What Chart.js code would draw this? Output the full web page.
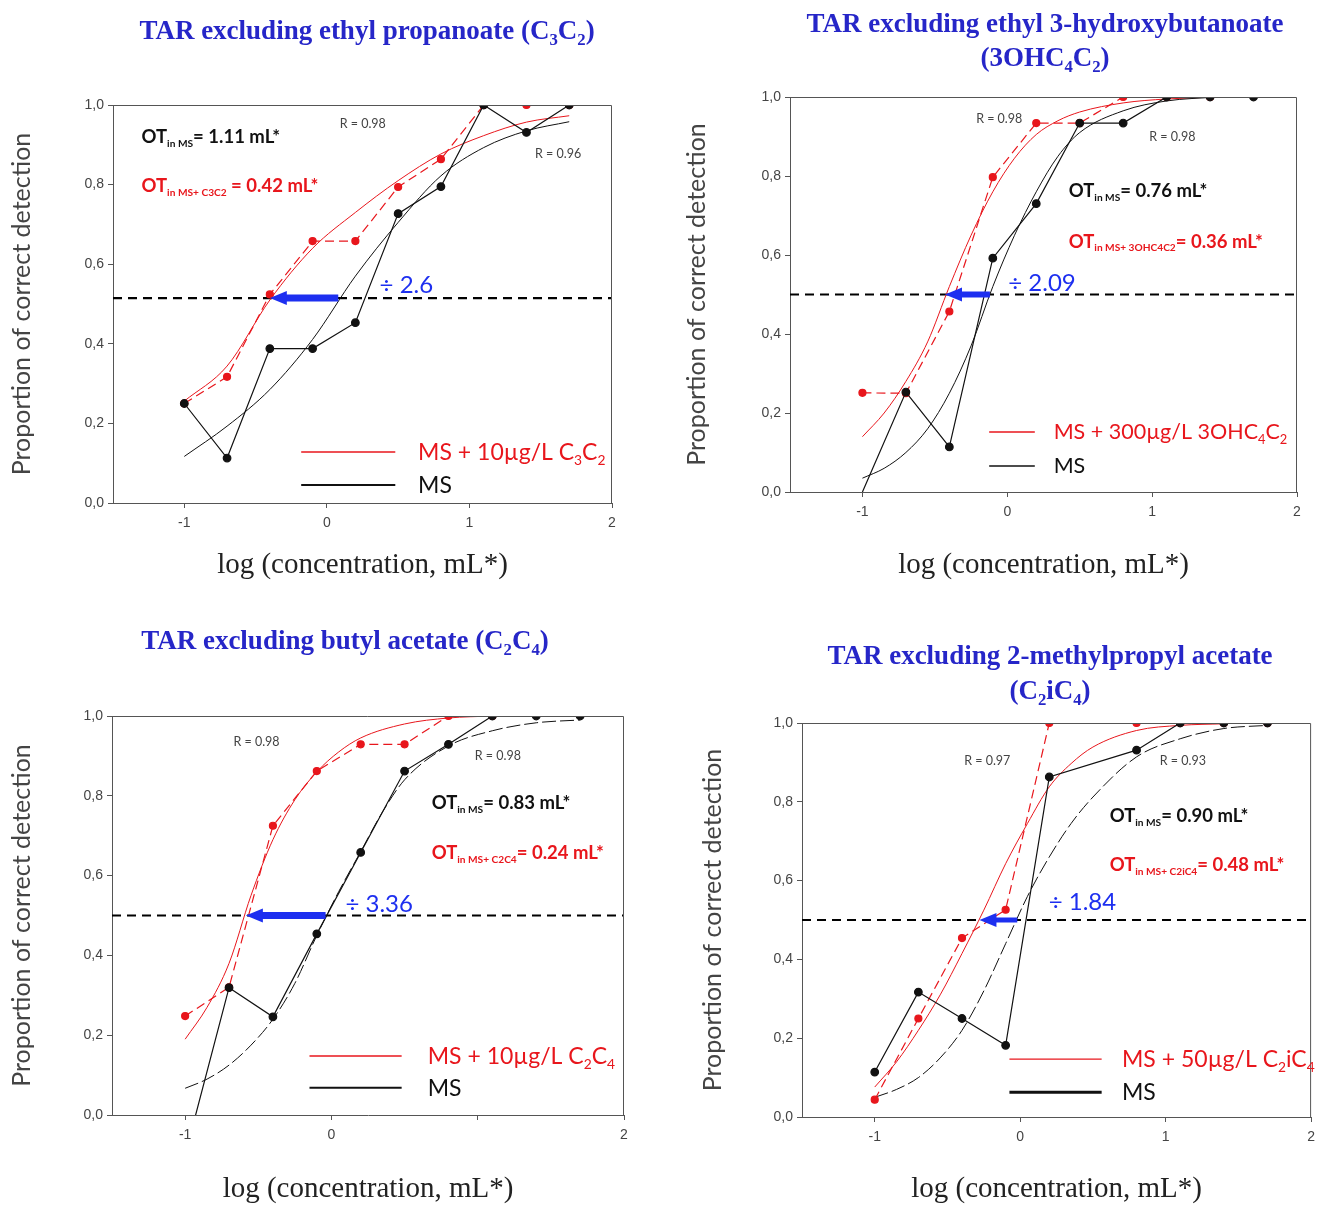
<!DOCTYPE html>
<html lang="en">
<head>
<meta charset="UTF-8">
<title>TAR excluding esters</title>
<script src="https://cdn.jsdelivr.net/npm/chart.js"></script>
<style>
  body { margin: 0; background: #fff; }
  #wrap { position: relative; width: 1322px; height: 1207px; overflow: hidden; }
  .panel { position: absolute; }
  canvas { display: block; }
</style>
</head>
<body>
<div id="wrap">
  <div class="panel" style="left:0;top:0"><canvas id="c1" width="661" height="600"></canvas></div>
  <div class="panel" style="left:661px;top:0"><canvas id="c2" width="661" height="600"></canvas></div>
  <div class="panel" style="left:0;top:600px"><canvas id="c3" width="661" height="607"></canvas></div>
  <div class="panel" style="left:661px;top:600px"><canvas id="c4" width="661" height="607"></canvas></div>
</div>
<script>
// shared axes
const xTicks = [-1, 0, 1, 2];
const xTickLabels = ['-1', '0', '1', '2'];
const xTickLabelsP3 = ['-1', '0', '', '2'];   // "1" is missing in the scan
const yTicks = [0, 0.2, 0.4, 0.6, 0.8, 1.0];
const doses = [-1, -0.7, -0.4, -0.1, 0.2, 0.5, 0.8, 1.1, 1.4, 1.7];

// panel 1 : ethyl propanoate
const p1Ms     = [0.25, 0.113, 0.388, 0.388, 0.453, 0.727, 0.795, 1.0, 0.931, 1.0];
const p1Spiked = [0.25, 0.317, 0.524, 0.658, 0.658, 0.794, 0.864, 1.0, 1.0, 1.0];
const p1FitX   = [-1, -0.7, -0.4, -0.1, 0.2, 0.5, 0.8, 1.1, 1.4, 1.7];
const p1MsFit  = [0.117, 0.193, 0.285, 0.411, 0.57, 0.705, 0.822, 0.893, 0.935, 0.958];
const p1SpFit  = [0.256, 0.344, 0.51, 0.64, 0.73, 0.81, 0.877, 0.923, 0.957, 0.973];
const p1Half = 0.515;
const p1Arrow = [0.08, -0.4];

// panel 2 : ethyl 3-hydroxybutanoate
const p2Ms     = [0.0, 0.253, 0.114, 0.592, 0.73, 0.934, 0.934, 1.0, 1.0, 1.0];
const p2Spiked = [0.251, 0.25, 0.457, 0.797, 0.934, 0.934, 1.0, 1.0, 1.0, null];
const p2FitX   = [-1, -0.85, -0.7, -0.55, -0.4, -0.25, -0.1, 0.05, 0.2, 0.35, 0.5, 0.8, 1.1, 1.45];
const p2MsFit  = [0.035, 0.06, 0.10, 0.16, 0.25, 0.37, 0.52, 0.65, 0.76, 0.85, 0.91, 0.965, 0.99, 1.0];
const p2SpFit  = [0.14, 0.2, 0.28, 0.38, 0.52, 0.65, 0.76, 0.845, 0.905, 0.94, 0.962, 0.985, 0.995, 1.0];
const p2Half = 0.5;
const p2Arrow = [-0.12, -0.43];

// panel 3 : butyl acetate
const p3Ms     = [-0.1, 0.319, 0.246, 0.454, 0.658, 0.862, 0.929, 1.0, 1.0, 1.0];
const p3Spiked = [0.248, 0.32, 0.725, 0.862, 0.929, 0.929, 1.0, 1.0, null, null];
const p3FitX   = [-1, -0.85, -0.7, -0.55, -0.4, -0.25, -0.1, 0.05, 0.2, 0.35, 0.5, 0.8, 1.1, 1.4, 1.7];
const p3MsFit  = [0.067, 0.09, 0.125, 0.175, 0.24, 0.33, 0.45, 0.56, 0.66, 0.76, 0.84, 0.925, 0.963, 0.983, 0.99];
const p3SpFitX = [-1, -0.85, -0.7, -0.55, -0.4, -0.25, -0.1, 0.05, 0.2, 0.5, 0.8, 1.1];
const p3SpFit  = [0.19, 0.27, 0.38, 0.55, 0.69, 0.79, 0.86, 0.91, 0.945, 0.98, 0.995, 1.0];
const p3Half = 0.5;
const p3Arrow = [-0.04, -0.585];

// panel 4 : 2-methylpropyl acetate
const p4Ms     = [0.114, 0.317, 0.25, 0.182, 0.863, null, 0.931, 1.0, 1.0, 1.0];
const p4Spiked = [0.044, 0.25, 0.454, 0.526, 1.0, null, 1.0, 1.0, 1.0, 1.0];
const p4FitX   = [-1, -0.85, -0.7, -0.55, -0.4, -0.25, -0.1, 0.05, 0.2, 0.35, 0.5, 0.8, 1.1, 1.4, 1.7];
const p4MsFit  = [0.05, 0.07, 0.10, 0.15, 0.22, 0.32, 0.44, 0.56, 0.66, 0.745, 0.812, 0.914, 0.96, 0.986, 0.994];
const p4SpFitX = [-1, -0.85, -0.7, -0.55, -0.4, -0.25, -0.1, 0.05, 0.2, 0.35, 0.5, 0.8, 1.1, 1.4];
const p4SpFit  = [0.076, 0.14, 0.22, 0.31, 0.415, 0.525, 0.643, 0.745, 0.838, 0.897, 0.939, 0.981, 0.994, 0.998];
const p4Half = 0.5;
const p4Arrow = [-0.02, -0.28];

const RED = '#e8161c';
const BLACK = '#111';
const BLUE = '#1d2ff0';
const AXIS = '#555';
const SANS = 'Lato, "Open Sans", sans-serif';
const SERIF = '"Liberation Serif", "Times New Roman", serif';

function pairs(xs, ys) {
    return xs.map((x, i) => ({ x: x, y: ys[i] === undefined ? null : ys[i] }));
}

// text with _{...} subscripts
function parseRich(str) {
    return str.split(/(_\{[^}]*\})/).filter(Boolean)
        .map(p => p.startsWith('_{') ? { t: p.slice(2, -1), sub: true } : { t: p, sub: false });
}
function drawRich(ctx, str, x, y, o) {
    const parts = parseRich(str);
    const fontFor = sub => `${o.weight || 'normal'} ${sub ? o.size * (o.subScale || 0.62) : o.size}px ${o.family}`;
    let w = 0;
    parts.forEach(p => { ctx.font = fontFor(p.sub); w += ctx.measureText(p.t).width; });
    let cx = o.align === 'center' ? x - w / 2 : x;
    const base = y + o.size * 0.35;
    ctx.fillStyle = o.color;
    ctx.textAlign = 'left';
    ctx.textBaseline = 'alphabetic';
    parts.forEach(p => {
        ctx.font = fontFor(p.sub);
        ctx.fillText(p.t, cx, p.sub ? base + o.size * 0.2 : base);
        cx += ctx.measureText(p.t).width;
    });
}

// frame, arrow, labels, legend, titles
const decor = {
    id: 'decor',
    afterDatasetsDraw(chart) {
        const lay = chart.options.plugins.decor;
        const { ctx, chartArea: a, scales: { x, y } } = chart;
        ctx.save();
        ctx.strokeStyle = AXIS;
        ctx.lineWidth = 1;
        ctx.beginPath();
        ctx.moveTo(a.left, a.top + 0.5);
        ctx.lineTo(a.right - 0.5, a.top + 0.5);
        ctx.lineTo(a.right - 0.5, a.bottom);
        ctx.stroke();

        // blue arrow
        const x0 = x.getPixelForValue(lay.arrow[0]);
        const x1 = x.getPixelForValue(lay.arrow[1]);
        const ya = y.getPixelForValue(lay.half);
        const head = 17;
        ctx.strokeStyle = BLUE;
        ctx.fillStyle = BLUE;
        ctx.lineWidth = lay.arrowW;
        ctx.beginPath();
        ctx.moveTo(x0, ya);
        ctx.lineTo(x1 + head - 2, ya);
        ctx.stroke();
        ctx.beginPath();
        ctx.moveTo(x1, ya);
        ctx.lineTo(x1 + head, ya - 7);
        ctx.lineTo(x1 + head, ya + 7);
        ctx.closePath();
        ctx.fill();
        drawRich(ctx, lay.ratio.text, x.getPixelForValue(lay.ratio.x), y.getPixelForValue(lay.ratio.y),
            { size: 24, family: SANS, color: BLUE });

        lay.r.forEach(r => drawRich(ctx, r.text, x.getPixelForValue(r.x), y.getPixelForValue(r.y),
            { size: 12.5, family: SANS, color: '#444' }));
        lay.ot.forEach(o => drawRich(ctx, o.text, x.getPixelForValue(o.x), y.getPixelForValue(o.y),
            { size: 18.5, weight: 'bold', family: SANS, color: o.color, subScale: 0.55 }));

        // legend
        const lx0 = x.getPixelForValue(lay.legend.line[0]);
        const lx1 = x.getPixelForValue(lay.legend.line[1]);
        const tx = x.getPixelForValue(lay.legend.textX);
        lay.legend.items.forEach(it => {
            const py = y.getPixelForValue(it.y);
            ctx.strokeStyle = it.color;
            ctx.lineWidth = it.w;
            ctx.beginPath();
            ctx.moveTo(lx0, py);
            ctx.lineTo(lx1, py);
            ctx.stroke();
            drawRich(ctx, it.text, tx, py, { size: lay.legend.size, family: SANS, color: it.color, subScale: 0.6 });
        });
        ctx.restore();
    },
    afterDraw(chart) {
        const lay = chart.options.plugins.decor;
        const ctx = chart.ctx;
        ctx.save();
        lay.titles.forEach(t => drawRich(ctx, t.text, t.x, t.y,
            { size: 27, weight: 'bold', family: SERIF, color: '#2626c8', align: 'center', subScale: 0.62 }));
        ctx.restore();
    }
};

function makePanel(id, p) {
    const canvas = document.getElementById(id);
    const W = canvas.width, H = canvas.height;
    const a = p.area;
    const xAxisH = Math.round(p.xTitleY - a.bottom + 17);
    const datasets = [
        { label: 'MS', data: pairs(doses, p.ms), borderColor: BLACK, backgroundColor: BLACK,
          borderWidth: 1.2, spanGaps: true, order: 0,
          pointRadius: c => (c.raw && c.raw.y > 0 ? 3.8 : 0) },
        { label: 'MS spiked', data: pairs(doses, p.spiked), borderColor: RED, backgroundColor: RED,
          borderWidth: 1.2, borderDash: [9, 5], spanGaps: true, order: 1, pointRadius: 3.5 },
        { label: 'MS fit', data: pairs(p.fitX, p.msFit), borderColor: BLACK, borderWidth: 1,
          borderDash: p.fitDash, pointRadius: 0, cubicInterpolationMode: 'monotone', order: 2 },
        { label: 'spiked fit', data: pairs(p.spFitX, p.spFit), borderColor: RED, borderWidth: 1,
          pointRadius: 0, cubicInterpolationMode: 'monotone', order: 3 },
        { label: 'half', data: [{ x: -1.5, y: p.half }, { x: 2, y: p.half }], borderColor: '#000',
          borderWidth: 2.2, borderDash: [9, 6], pointRadius: 0, order: 4 }
    ];
    return new Chart(canvas, {
        type: 'line',
        data: { datasets: datasets },
        options: {
            responsive: false,
            animation: false,
            layout: { padding: { left: 4, top: a.top, right: W - a.right, bottom: Math.max(0, H - a.bottom - xAxisH) } },
            plugins: {
                legend: { display: false },
                tooltip: { enabled: false },
                decor: {
                    half: p.half, arrow: p.arrow, arrowW: p.arrowW, ratio: p.ratio,
                    r: p.r, ot: p.ot, legend: p.legend, titles: p.titles
                }
            },
            scales: {
                x: {
                    type: 'linear', min: -1.5, max: 2,
                    afterBuildTicks: s => { s.ticks = xTicks.map(v => ({ value: v })); },
                    afterFit: s => { s.height = xAxisH; },
                    ticks: { callback: (v, i) => p.xLabels[i], color: '#444', padding: 7,
                             font: { family: '"Liberation Sans", Arial, sans-serif', size: 14 } },
                    grid: { drawOnChartArea: false, drawTicks: true, tickLength: 5, color: AXIS },
                    border: { color: AXIS, width: 1 },
                    title: { display: true, text: 'log (concentration, mL*)', color: '#222',
                             font: { family: SERIF, size: 29 }, padding: { top: 0, bottom: 0 } }
                },
                y: {
                    type: 'linear', min: 0, max: 1,
                    afterBuildTicks: s => { s.ticks = yTicks.map(v => ({ value: v })); },
                    afterFit: s => { s.width = a.left - 4; },
                    ticks: { callback: v => v.toFixed(1).replace('.', ','), color: '#444', padding: 4,
                             font: { family: '"Liberation Sans", Arial, sans-serif', size: 14 } },
                    grid: { drawOnChartArea: false, drawTicks: true, tickLength: 5, color: AXIS },
                    border: { color: AXIS, width: 1 },
                    title: { display: true, text: 'Proportion of correct detection', color: '#444',
                             font: { family: SANS, size: 25 }, padding: { top: p.yTitlePad, bottom: 0 } }
                }
            }
        },
        plugins: [decor]
    });
}

makePanel('c1', {
    ms: p1Ms, spiked: p1Spiked, fitX: p1FitX, msFit: p1MsFit, spFitX: p1FitX, spFit: p1SpFit,
    half: p1Half, arrow: p1Arrow, arrowW: 7, fitDash: [], xLabels: xTickLabels,
    area: { left: 113, right: 612, top: 105, bottom: 503 }, xTitleY: 566, yTitlePad: 3,
    ratio: { text: '÷ 2.6', x: 0.37, y: 0.548 },
    r: [{ text: 'R = 0.98', x: 0.09, y: 0.952 }, { text: 'R = 0.96', x: 1.46, y: 0.879 }],
    ot: [{ text: 'OT_{in MS}= 1.11 mL*', x: -1.30, y: 0.92, color: BLACK },
         { text: 'OT_{in MS+ C3C2} = 0.42 mL*', x: -1.30, y: 0.797, color: RED }],
    legend: { line: [-0.18, 0.48], textX: 0.64, size: 23, items: [
        { text: 'MS + 10µg/L C_{3}C_{2}', y: 0.128, color: RED, w: 1.4 },
        { text: 'MS', y: 0.045, color: BLACK, w: 2 }] },
    titles: [{ text: 'TAR excluding ethyl propanoate (C_{3}C_{2})', x: 367, y: 30 }]
});

makePanel('c2', {
    ms: p2Ms, spiked: p2Spiked, fitX: p2FitX, msFit: p2MsFit, spFitX: p2FitX, spFit: p2SpFit,
    half: p2Half, arrow: p2Arrow, arrowW: 6, fitDash: [], xLabels: xTickLabels,
    area: { left: 129, right: 636, top: 97, bottom: 492 }, xTitleY: 566, yTitlePad: 17,
    ratio: { text: '÷ 2.09', x: 0.007, y: 0.529 },
    r: [{ text: 'R = 0.98', x: -0.215, y: 0.944 }, { text: 'R = 0.98', x: 0.98, y: 0.899 }],
    ot: [{ text: 'OT_{in MS}= 0.76 mL*', x: 0.424, y: 0.762, color: BLACK },
         { text: 'OT_{in MS+ 3OHC4C2}= 0.36 mL*', x: 0.424, y: 0.635, color: RED }],
    legend: { line: [-0.125, 0.19], textX: 0.32, size: 21.5, items: [
        { text: 'MS + 300µg/L 3OHC_{4}C_{2}', y: 0.152, color: RED, w: 1.6 },
        { text: 'MS', y: 0.066, color: BLACK, w: 1.6 }] },
    titles: [{ text: 'TAR excluding ethyl 3-hydroxybutanoate', x: 384, y: 23 },
             { text: '(3OHC_{4}C_{2})', x: 384, y: 57 }]
});

makePanel('c3', {
    ms: p3Ms, spiked: p3Spiked, fitX: p3FitX, msFit: p3MsFit, spFitX: p3SpFitX, spFit: p3SpFit,
    half: p3Half, arrow: p3Arrow, arrowW: 7, fitDash: [14, 4], xLabels: xTickLabelsP3,
    area: { left: 112, right: 624, top: 116, bottom: 515 }, xTitleY: 590, yTitlePad: 3,
    ratio: { text: '÷ 3.36', x: 0.096, y: 0.531 },
    r: [{ text: 'R = 0.98', x: -0.67, y: 0.937 }, { text: 'R = 0.98', x: 0.98, y: 0.90 }],
    ot: [{ text: 'OT_{in MS}= 0.83 mL*', x: 0.685, y: 0.782, color: BLACK },
         { text: 'OT_{in MS+ C2C4}= 0.24 mL*', x: 0.685, y: 0.657, color: RED }],
    legend: { line: [-0.15, 0.48], textX: 0.658, size: 23, items: [
        { text: 'MS + 10µg/L C_{2}C_{4}', y: 0.148, color: RED, w: 1.4 },
        { text: 'MS', y: 0.068, color: BLACK, w: 2 }] },
    titles: [{ text: 'TAR excluding butyl acetate (C_{2}C_{4})', x: 345, y: 40 }]
});

makePanel('c4', {
    ms: p4Ms, spiked: p4Spiked, fitX: p4FitX, msFit: p4MsFit, spFitX: p4SpFitX, spFit: p4SpFit,
    half: p4Half, arrow: p4Arrow, arrowW: 5, fitDash: [14, 4], xLabels: xTickLabels,
    area: { left: 141, right: 659, top: 123, bottom: 517 }, xTitleY: 590, yTitlePad: 33,
    ratio: { text: '÷ 1.84', x: 0.196, y: 0.546 },
    r: [{ text: 'R = 0.97', x: -0.385, y: 0.904 }, { text: 'R = 0.93', x: 0.96, y: 0.904 }],
    ot: [{ text: 'OT_{in MS}= 0.90 mL*', x: 0.615, y: 0.764, color: BLACK },
         { text: 'OT_{in MS+ C2iC4}= 0.48 mL*', x: 0.615, y: 0.64, color: RED }],
    legend: { line: [-0.074, 0.56], textX: 0.70, size: 23, items: [
        { text: 'MS + 50µg/L C_{2}iC_{4}', y: 0.147, color: RED, w: 1.4 },
        { text: 'MS', y: 0.063, color: BLACK, w: 3 }] },
    titles: [{ text: 'TAR excluding 2-methylpropyl acetate', x: 389, y: 55 },
             { text: '(C_{2}iC_{4})', x: 389, y: 90 }]
});
</script>
</body>
</html>
